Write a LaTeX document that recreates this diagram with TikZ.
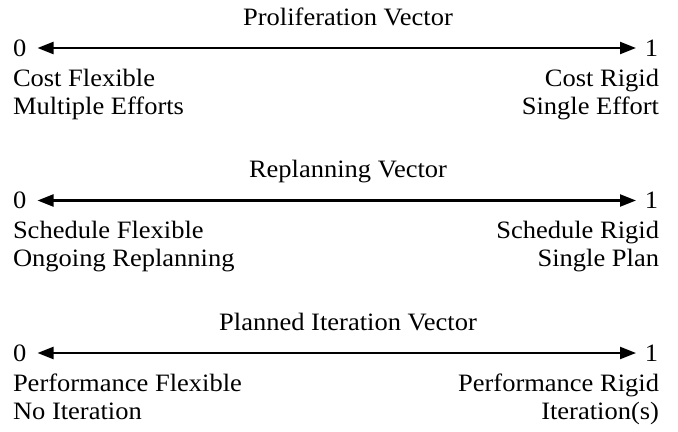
\documentclass[tikz,border=0pt]{standalone}
\usepackage{fontspec}
\setmainfont{Liberation Serif}[FakeStretch=1.06]
\usetikzlibrary{arrows.meta}
\begin{document}
\begin{tikzpicture}[x=1bp,y=-1bp,
  every node/.style={inner sep=0pt,outer sep=0pt,font=\fontsize{25bp}{28bp}\selectfont},
  ttl/.style={anchor=base},
  lft/.style={anchor=base west},
  rgt/.style={anchor=base east},
  vec/.style={line width=2.2bp,{Triangle[length=16bp,width=12bp]}-{Triangle[length=16bp,width=12bp]}}]
\useasboundingbox (0,0) rectangle (678,431);
\foreach \i/\t/\la/\lb/\ra/\rb in {0/Proliferation Vector/Cost Flexible/Multiple Efforts/Cost Rigid/Single Effort,
  1/Replanning Vector/Schedule Flexible/Ongoing Replanning/Schedule Rigid/Single Plan,
  2/Planned Iteration Vector/Performance Flexible/No Iteration/Performance Rigid/Iteration(s)}{
  \pgfmathsetmacro{\dy}{152.5*\i}
  \begin{scope}[yshift={-\dy bp}]
    \node[ttl] (t\i) at (348,25) {\t};
    \node[lft] (z\i) at (13,56) {0};
    \node[rgt] (o\i) at (658,56) {1};
    \coordinate (al\i) at (37.5,48);
    \coordinate (ar\i) at (636,48);
    \draw[vec] (al\i) -- (ar\i);
    \node[lft] (la\i) at (13,86) {\la};
    \node[lft] (lb\i) at (13,114) {\lb};
    \node[rgt] (ra\i) at (659,86) {\ra};
    \node[rgt] (rb\i) at (659,114) {\rb};
  \end{scope}
}
\end{tikzpicture}
\end{document}
